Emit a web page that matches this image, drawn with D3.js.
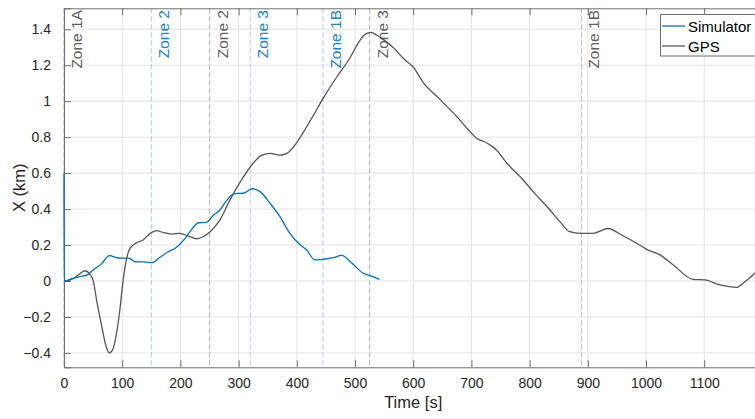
<!DOCTYPE html>
<html>
<head>
<meta charset="utf-8">
<script src="https://cdn.jsdelivr.net/npm/d3@7"></script>
<style>
html,body{margin:0;padding:0;background:#fff;overflow:hidden;}
svg{display:block;font-family:"Liberation Sans",Arial,sans-serif;}
</style>
</head>
<body>
<svg id="chart" width="755" height="419"></svg>
<script>
// ---- data ----
const gpsTime = [0,5,15,25,36,44,50,56,65,72,78,84,88,96,100,105,113,125,136,148,159,171,185,199,214,228,239,251,268,285,305,325,340,354,370,383,400,417,430,446,469,491,505,515,527,537,554,565,586,600,617,646,675,695,709,725,735,743,761,789,806,835,852,869,887,909,935,958,984,1001,1024,1047,1081,1101,1127,1156,1170,1187,1200];
const gpsX = [0,0.0,0.012,0.035,0.057,0.04,0.005,-0.106,-0.254,-0.36,-0.40,-0.38,-0.33,-0.16,-0.04,0.08,0.18,0.213,0.228,0.265,0.28,0.269,0.261,0.265,0.25,0.235,0.246,0.274,0.34,0.45,0.562,0.655,0.70,0.71,0.70,0.71,0.77,0.858,0.93,1.02,1.136,1.239,1.32,1.365,1.383,1.368,1.33,1.30,1.229,1.19,1.105,1.01,0.914,0.84,0.794,0.77,0.75,0.729,0.655,0.562,0.497,0.395,0.33,0.274,0.265,0.265,0.292,0.256,0.21,0.176,0.145,0.089,0.009,0.006,-0.022,-0.035,-0.004,0.043,0.08];
const simTime = [0,0.3,10,27,39,50,65,78,93,113,122,139,151,165,179,191,208,220,231,245,257,268,280,288,298,308,324,337,354,371,388,403,417,431,446,463,477,494,514,526,542];
const simX = [0.6,0,0.009,0.024,0.033,0.061,0.098,0.141,0.128,0.126,0.107,0.106,0.102,0.132,0.163,0.182,0.237,0.29,0.324,0.326,0.367,0.395,0.45,0.478,0.487,0.488,0.513,0.497,0.432,0.358,0.265,0.21,0.172,0.117,0.121,0.13,0.143,0.102,0.043,0.03,0.009];
const zoneTimes = [0,150,250,320,445,525,889];
const zoneNames = ["Zone 1A","Zone 2","Zone 2","Zone 3","Zone 1B","Zone 3","Zone 1B"];
const zoneSource = ["GPS","Simulator","GPS","Simulator","Simulator","GPS","GPS"];
const xTicks = [0,100,200,300,400,500,600,700,800,900,1000,1100];
const yTicks = [-0.4,-0.2,0,0.2,0.4,0.6,0.8,1,1.2,1.4];
const seriesNames = ["Simulator","GPS"];

// ---- layout ----
const L = 64, R = 762.4, T = 8.3, B = 367.3;
const blue = "#0072BD", gray = "#555555";
const svg = d3.select("#chart");
const x = d3.scaleLinear().domain([0,1200]).range([L,R]);
const y = d3.scaleLinear().domain([-0.48,1.5167]).range([B,T]);

svg.append("defs").append("clipPath").attr("id","clip")
  .append("rect").attr("x",L-1).attr("y",T).attr("width",R-L+1).attr("height",B-T);

// grid
const grid = svg.append("g");
grid.selectAll(".gx").data(xTicks).enter().append("line")
  .attr("x1",d=>x(d)).attr("x2",d=>x(d)).attr("y1",T).attr("y2",B)
  .attr("stroke","#e3e3e3").attr("stroke-width",1);
grid.selectAll(".gy").data(yTicks).enter().append("line")
  .attr("y1",d=>y(d)).attr("y2",d=>y(d)).attr("x1",L).attr("x2",R)
  .attr("stroke","#e3e3e3").attr("stroke-width",1);

// zone lines + labels
const zones = zoneTimes.map((t,i)=>({t,name:zoneNames[i],src:zoneSource[i]}));
const zg = svg.append("g");
zg.selectAll("line").data(zones).enter().append("line")
  .attr("x1",d=>x(d.t)).attr("x2",d=>x(d.t)).attr("y1",T).attr("y2",B)
  .attr("stroke",d=>d.src==="GPS"?"#b5b5b5":"#a6cdeb")
  .attr("stroke-width",1).attr("stroke-dasharray","5,3");
zg.selectAll("text").data(zones).enter().append("text")
  .attr("transform",d=>`translate(${x(d.t)+18},10) rotate(-90)`)
  .attr("text-anchor","end")
  .attr("font-size",15.5)
  .attr("fill",d=>d.src==="GPS"?"#5e5e5e":"#1a7fcf")
  .text(d=>d.name);

// axes
const axisColor = "#6e6e6e";
const xb = svg.append("g").attr("transform",`translate(0,${B})`)
  .call(d3.axisBottom(x).tickValues(xTicks).tickSize(-7).tickPadding(14).tickFormat(d3.format("d")));
const xt = svg.append("g").attr("transform",`translate(0,${T})`)
  .call(d3.axisTop(x).tickValues(xTicks).tickSize(-7).tickFormat(""));
const yl = svg.append("g").attr("transform",`translate(${L},0)`)
  .call(d3.axisLeft(y).tickValues(yTicks).tickSize(-7).tickPadding(13).tickFormat(d=>d===0?"0":d3.format("")(+d.toFixed(1))));
[xb,xt,yl].forEach(g=>{
  g.select(".domain").attr("stroke",axisColor).attr("stroke-width",1);
  g.selectAll(".tick line").attr("stroke",axisColor);
  g.selectAll(".tick text").attr("fill","#262626").attr("font-size",14)
   .attr("font-family","'Liberation Sans',Arial,sans-serif");
});
xb.selectAll(".tick text").attr("dy",0).attr("y",21);

// lines (drawn over axes like the reference)
const line = d3.line().x(d=>x(d[0])).y(d=>y(d[1])).curve(d3.curveMonotoneX);
const plot = svg.append("g").attr("clip-path","url(#clip)");
plot.append("path").datum(gpsTime.map((t,i)=>[t,gpsX[i]]))
  .attr("d",line).attr("fill","none").attr("stroke",gray).attr("stroke-width",1.3);
plot.append("path").datum(simTime.map((t,i)=>[t,simX[i]]))
  .attr("d",line).attr("fill","none").attr("stroke",blue).attr("stroke-width",1.3);

// axis titles
svg.append("text").attr("x",(L+R)/2).attr("y",408).attr("text-anchor","middle")
  .attr("font-size",16.5).attr("fill","#262626").text("Time [s]");
svg.append("text").attr("transform",`translate(25,${(T+B)/2}) rotate(-90)`)
  .attr("text-anchor","middle").attr("font-size",16.5).attr("fill","#262626").text("X (km)");

// legend
const lg = svg.append("g");
lg.append("rect").attr("x",660.5).attr("y",14.5).attr("width",110).attr("height",41.5)
  .attr("fill","#fff").attr("stroke","#6e6e6e").attr("stroke-width",1);
const lc = [blue,gray];
seriesNames.forEach((n,i)=>{
  const yy = 26 + i*20;
  lg.append("line").attr("x1",662).attr("x2",685).attr("y1",yy).attr("y2",yy)
    .attr("stroke",lc[i]).attr("stroke-width",1.3);
  lg.append("text").attr("x",688).attr("y",yy+5.5).attr("font-size",15)
    .attr("fill","#000").text(n);
});
</script>
</body>
</html>
